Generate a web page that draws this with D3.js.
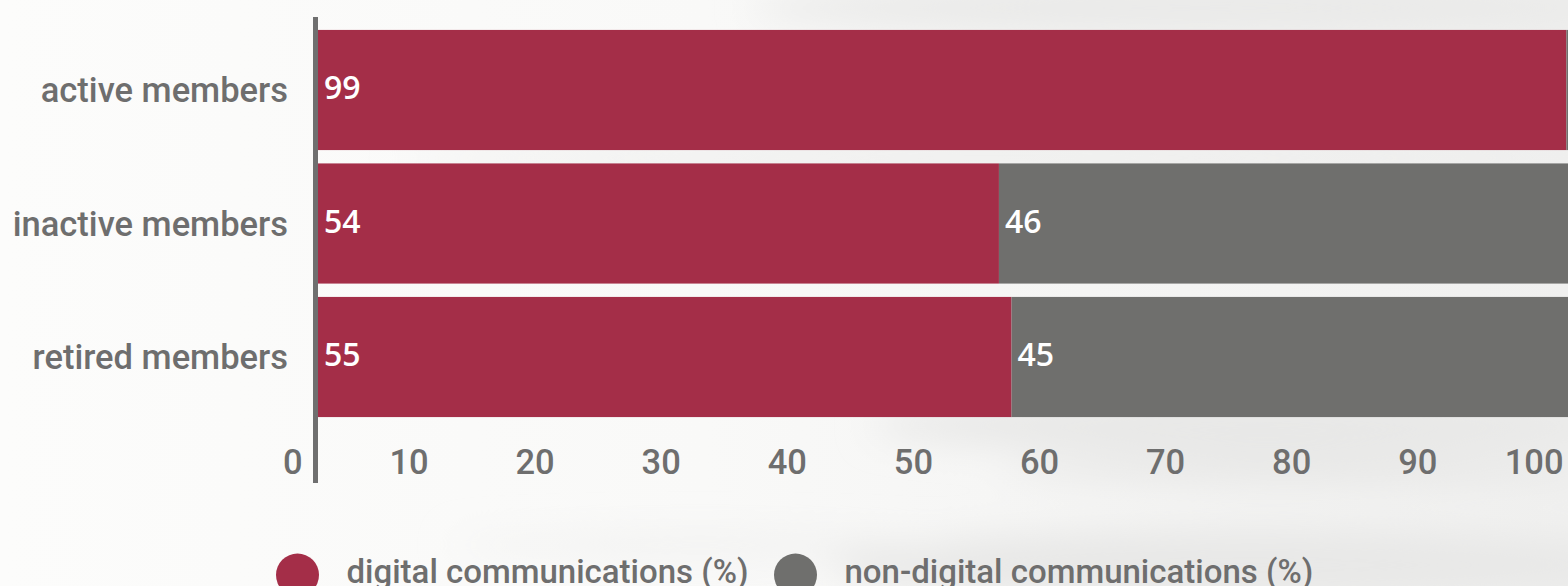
<!DOCTYPE html>
<html>
<head>
<meta charset="utf-8">
<script src="https://cdn.jsdelivr.net/npm/d3@7"></script>
<style>
  html, body { margin: 0; padding: 0; overflow: hidden; background: #fff; }
  svg { display: block; }
</style>
</head>
<body>
<svg id="chart" width="1568" height="586"></svg>
<script>
// data
var categories = ["active members", "inactive members", "retired members"];
var digital = [99, 54, 55];
var nonDigital = [1, 46, 45];
var xTicks = [0, 10, 20, 30, 40, 50, 60, 70, 80, 90, 100];
var seriesNames = ["digital communications (%)", "non-digital communications (%)"];
var seriesColors = ["#a42e48", "#6f6f6d"];

var W = 1568, H = 586;
var svg = d3.select("#chart");

// soft washed background
var defs = svg.append("defs");
defs.append("filter").attr("id", "blur")
  .attr("x", "-50%").attr("y", "-50%").attr("width", "200%").attr("height", "200%")
  .append("feGaussianBlur").attr("stdDeviation", 18);
var grad = defs.append("linearGradient").attr("id", "bgGrad")
  .attr("x1", "0").attr("x2", "1").attr("y1", "0").attr("y2", "0");
grad.append("stop").attr("offset", "0").attr("stop-color", "#fcfcfb");
grad.append("stop").attr("offset", "0.45").attr("stop-color", "#f9f9f8");
grad.append("stop").attr("offset", "1").attr("stop-color", "#f0f0ef");
svg.append("rect").attr("width", W).attr("height", H).attr("fill", "url(#bgGrad)");

var blobs = [
  {cx: 1200, cy: 8, rx: 450, ry: 26, c: "#e9e9e8"},
  {cx: 1000, cy: 158, rx: 600, ry: 12, c: "#ebebea"},
  {cx: 1250, cy: 425, rx: 380, ry: 26, c: "#e7e7e6"},
  {cx: 1300, cy: 470, rx: 300, ry: 12, c: "#e5e5e4"},
  {cx: 1250, cy: 565, rx: 420, ry: 36, c: "#e8e8e7"},
  {cx: 700, cy: 545, rx: 250, ry: 10, c: "#f0f0ef"}
];
svg.append("g").attr("filter", "url(#blur)")
  .selectAll("ellipse").data(blobs).enter().append("ellipse")
  .attr("cx", function(d) { return d.cx; })
  .attr("cy", function(d) { return d.cy; })
  .attr("rx", function(d) { return d.rx; })
  .attr("ry", function(d) { return d.ry; })
  .attr("fill", function(d) { return d.c; });

// scales
var x = d3.scaleLinear().domain([0, 100]).range([318, 1579]);
var y = d3.scaleBand().domain(categories)
  .range([23.25, 423.75]).paddingInner(0.1).paddingOuter(0.05);

var rows = categories.map(function(c, i) {
  return {cat: c, segs: [
    {k: 0, x0: 0, x1: digital[i], v: digital[i]},
    {k: 1, x0: digital[i], x1: digital[i] + nonDigital[i], v: nonDigital[i]}
  ]};
});

var bars = svg.append("g").attr("class", "bars");
var row = bars.selectAll("g.row").data(rows).enter().append("g").attr("class", "row")
  .attr("transform", function(d) { return "translate(0," + y(d.cat) + ")"; });

row.selectAll("rect").data(function(d) { return d.segs; }).enter().append("rect")
  .attr("x", function(d) { return x(d.x0); })
  .attr("width", function(d) { return x(d.x1) - x(d.x0); })
  .attr("y", 0)
  .attr("height", y.bandwidth())
  .attr("fill", function(d) { return seriesColors[d.k]; });

row.selectAll("text").data(function(d) { return d.segs.filter(function(s) { return s.v >= 5; }); })
  .enter().append("text")
  .attr("x", function(d) { return x(d.x0) + 6; })
  .attr("y", y.bandwidth() / 2 - 2)
  .attr("dy", "0.35em")
  .style("font-family", "'Open Sans', sans-serif")
  .style("font-size", "32px")
  .style("font-weight", 600)
  .style("fill", "#fff")
  .text(function(d) { return d.v; });

var textStyle = function(sel) {
  sel.style("font-family", "Roboto, sans-serif")
    .style("font-size", "34.5px")
    .style("font-weight", 500)
    .style("fill", "#6e6e6e");
};

// y axis: category labels + thick line
var yAxis = svg.append("g").attr("transform", "translate(288,0)")
  .call(d3.axisLeft(y).tickSize(0).tickPadding(0));
yAxis.select(".domain").remove();
yAxis.selectAll("text").attr("dy", "0.35em").call(textStyle);

svg.append("line")
  .attr("x1", 315.5).attr("x2", 315.5)
  .attr("y1", 17).attr("y2", 483)
  .attr("stroke", "#6f6f6f").attr("stroke-width", 5);

// x axis labels, right aligned just left of each tick
var xAxis = svg.append("g").attr("transform", "translate(0,474)")
  .call(d3.axisBottom(x).tickValues(xTicks).tickSize(0).tickPadding(0));
xAxis.select(".domain").remove();
xAxis.selectAll("text")
  .attr("y", 0).attr("dy", 0)
  .attr("dx", -16)
  .style("text-anchor", "end")
  .call(textStyle);

// legend (cut by the bottom edge, as in the original)
var legendX = [297.5, 795.5];
var legend = svg.append("g").selectAll("g").data(seriesNames).enter().append("g")
  .attr("transform", function(d, i) { return "translate(" + legendX[i] + ",575)"; });
legend.append("circle").attr("r", 21.5)
  .attr("fill", function(d, i) { return seriesColors[i]; });
legend.append("text")
  .attr("x", 49).attr("y", 8)
  .call(textStyle)
  .style("font-size", "33px")
  .text(function(d) { return d; });
</script>
</body>
</html>
